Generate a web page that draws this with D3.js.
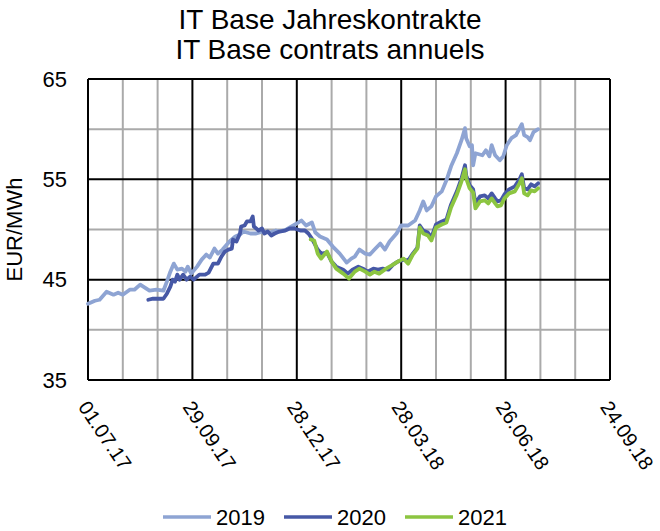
<!DOCTYPE html>
<html lang="en">
<meta charset="utf-8"/>
<head>
<script src="https://d3js.org/d3.v7.min.js"></script>
</head>
<style>
  body { margin: 0; background: #fff; }
  text { font-family: "Liberation Sans", Arial, sans-serif; fill: #000; }
  .grid-minor { stroke: #aaaaaa; stroke-width: 2; }
  .grid-major { stroke: #000; stroke-width: 2; }
  .series { fill: none; stroke-width: 3.8; stroke-linejoin: round; stroke-linecap: round; }
</style>
<body>
<script>
// chart data
var titleLines = ["IT Base Jahreskontrakte", "IT Base contrats annuels"];
var yLabel = "EUR/MWh";
var xTickLabels = ["01.07.17", "29.09.17", "28.12.17", "28.03.18", "26.06.18", "24.09.18"];
var yTicks = [35, 45, 55, 65];
var seriesNames = ["2019", "2020", "2021"];
var seriesColors = ["#8ea4d3", "#4658a6", "#8cc541"];

var dates19 = ["01.07.17","07.07.17","11.07.17","17.07.17","23.07.17","27.07.17","31.07.17","06.08.17","10.08.17","15.08.17",
  "19.08.17","23.08.17","29.08.17","04.09.17","07.09.17","10.09.17","13.09.17","16.09.17","20.09.17","23.09.17",
  "25.09.17","28.09.17","03.10.17","07.10.17","11.10.17","14.10.17","18.10.17","21.10.17","25.10.17","31.10.17",
  "05.11.17","09.11.17","12.11.17","18.11.17","23.11.17","29.11.17","05.12.17","10.12.17","13.12.17","19.12.17",
  "25.12.17","28.12.17","01.01.18","05.01.18","10.01.18","13.01.18","17.01.18","23.01.18","28.01.18","03.02.18",
  "09.02.18","13.02.18","16.02.18","20.02.18","25.02.18","01.03.18","05.03.18","10.03.18","14.03.18","18.03.18",
  "24.03.18","28.03.18","03.04.18","09.04.18","13.04.18","16.04.18","19.04.18","23.04.18","27.04.18","02.05.18",
  "06.05.18","10.05.18","15.05.18","19.05.18","22.05.18","23.05.18","26.05.18","28.05.18","29.05.18","31.05.18",
  "06.06.18","09.06.18","12.06.18","14.06.18","17.06.18","21.06.18","24.06.18","27.06.18","01.07.18","05.07.18",
  "10.07.18","12.07.18","15.07.18","17.07.18","20.07.18","24.07.18"];
var vals19 = [42.6,42.9,43.0,43.8,43.5,43.7,43.5,44.0,44.0,44.5,
  44.2,43.9,44.0,43.9,44.8,45.8,46.6,46.0,46.1,45.8,
  46.3,45.6,46.3,47.0,47.5,47.2,48.1,47.6,48.0,48.8,
  49.3,49.5,49.8,49.6,49.6,49.8,49.7,49.9,49.8,50.0,
  50.4,50.6,50.9,50.4,50.7,49.7,49.3,49.0,48.3,47.6,
  46.7,47.1,47.3,48.0,47.6,47.5,48.0,48.6,48.0,48.8,
  49.6,50.4,50.4,50.9,51.9,52.8,51.9,52.3,53.3,53.8,
  54.9,56.3,57.6,58.9,60.1,59.1,58.3,58.4,56.4,57.6,
  57.4,57.9,57.3,58.4,57.4,56.9,57.3,58.4,59.1,59.4,
  60.5,59.4,59.2,58.9,59.7,60.0];

var dates20 = ["22.08.17","26.08.17","04.09.17","07.09.17","10.09.17","12.09.17","14.09.17","16.09.17","18.09.17","21.09.17",
  "24.09.17","27.09.17","30.09.17","05.10.17","10.10.17","13.10.17","17.10.17","21.10.17","24.10.17","27.10.17",
  "30.10.17","02.11.17","03.11.17","06.11.17","09.11.17","10.11.17","13.11.17","15.11.17","18.11.17","20.11.17",
  "21.11.17","25.11.17","28.11.17","30.11.17","03.12.17","06.12.17","09.12.17","13.12.17","18.12.17","22.12.17",
  "26.12.17","31.12.17","04.01.18","07.01.18","10.01.18","15.01.18","18.01.18","23.01.18","27.01.18","31.01.18",
  "06.02.18","10.02.18","14.02.18","19.02.18","23.02.18","27.02.18","04.03.18","08.03.18","12.03.18","17.03.18",
  "21.03.18","25.03.18","30.03.18","03.04.18","07.04.18","11.04.18","13.04.18","16.04.18","20.04.18","23.04.18",
  "27.04.18","02.05.18","06.05.18","10.05.18","15.05.18","19.05.18","22.05.18","23.05.18","26.05.18","29.05.18",
  "31.05.18","04.06.18","08.06.18","11.06.18","14.06.18","17.06.18","19.06.18","22.06.18","25.06.18","29.06.18",
  "04.07.18","08.07.18","10.07.18","12.07.18","15.07.18","18.07.18","21.07.18","24.07.18"];
var vals20 = [43.0,43.1,43.1,43.6,44.3,45.0,44.8,45.5,45.0,45.5,
  45.0,45.3,45.0,45.5,45.5,45.7,46.6,46.6,47.3,47.8,
  48.0,48.1,49.0,48.8,49.6,50.3,50.4,50.8,50.8,51.3,
  50.3,49.9,50.1,49.6,49.8,49.4,49.6,49.8,49.9,50.1,
  50.1,49.9,49.9,49.6,49.1,48.0,47.6,47.7,46.8,46.3,
  46.0,45.6,46.0,46.3,46.1,45.8,46.1,46.0,46.1,46.0,
  46.5,46.8,47.0,46.9,47.6,48.2,50.4,49.9,49.7,49.2,
  50.5,50.8,51.0,52.5,53.8,55.1,56.4,55.4,54.4,54.0,
  52.6,53.3,53.4,53.1,53.6,53.1,52.8,52.9,53.5,54.0,
  54.3,55.0,55.5,54.1,54.0,54.5,54.3,54.6];

var dates21 = ["09.01.18","12.01.18","15.01.18","18.01.18","23.01.18","27.01.18","31.01.18","06.02.18","11.02.18","16.02.18",
  "20.02.18","25.02.18","01.03.18","05.03.18","09.03.18","15.03.18","21.03.18","25.03.18","30.03.18","03.04.18",
  "07.04.18","11.04.18","13.04.18","16.04.18","20.04.18","23.04.18","27.04.18","02.05.18","06.05.18","10.05.18",
  "15.05.18","19.05.18","22.05.18","23.05.18","26.05.18","29.05.18","31.05.18","04.06.18","08.06.18","11.06.18",
  "14.06.18","17.06.18","19.06.18","22.06.18","25.06.18","29.06.18","04.07.18","08.07.18","10.07.18","12.07.18",
  "15.07.18","18.07.18","21.07.18","24.07.18"];
var vals21 = [49.0,48.9,47.6,47.1,47.8,46.8,46.1,45.6,45.1,45.8,
  46.1,45.8,45.5,45.8,45.6,46.1,46.5,46.8,47.1,46.6,
  47.5,48.1,50.2,49.6,49.4,48.9,50.2,50.5,50.7,52.2,
  53.5,54.8,56.0,55.1,54.1,53.7,52.1,52.8,52.9,52.6,
  53.1,52.6,52.3,52.4,53.1,53.6,53.8,54.6,55.1,53.6,
  53.4,53.9,53.8,54.1];

var parse = d3.timeParse("%d.%m.%y");
var series = [
  {name: seriesNames[0], color: seriesColors[0], pts: dates19.map(function(d, i){ return {date: parse(d), v: vals19[i]}; })},
  {name: seriesNames[1], color: seriesColors[1], pts: dates20.map(function(d, i){ return {date: parse(d), v: vals20[i]}; })},
  {name: seriesNames[2], color: seriesColors[2], pts: dates21.map(function(d, i){ return {date: parse(d), v: vals21[i]}; })}
];

var margin = {top: 79, right: 50, bottom: 151, left: 88},
    width = 660 - margin.left - margin.right,
    height = 531 - margin.top - margin.bottom;

var svg = d3.select("body").append("svg")
    .attr("width", 660)
    .attr("height", 531);

var g = svg.append("g")
    .attr("transform", "translate(" + margin.left + "," + margin.top + ")");

var start = parse(xTickLabels[0]), end = parse(xTickLabels[xTickLabels.length - 1]);
var x = d3.scaleTime().domain([start, end]).range([0, width]);
var y = d3.scaleLinear().domain([35, 65]).range([height, 0]);

// gridlines: every 30 days / every 5 EUR, labelled ones are black
var xGrid = d3.range(0, 451, 30).map(function(d){ return d3.timeDay.offset(start, d); });
var yGrid = d3.range(35, 66, 5);

g.selectAll(".vminor").data(xGrid.filter(function(d, i){ return i % 3; })).enter()
  .append("line").attr("class", "grid-minor")
  .attr("x1", function(d){ return x(d); }).attr("x2", function(d){ return x(d); })
  .attr("y1", 0).attr("y2", height);
g.selectAll(".hminor").data(yGrid.filter(function(d){ return yTicks.indexOf(d) < 0; })).enter()
  .append("line").attr("class", "grid-minor")
  .attr("x1", 0).attr("x2", width)
  .attr("y1", function(d){ return y(d); }).attr("y2", function(d){ return y(d); });
g.selectAll(".vmajor").data(xGrid.filter(function(d, i){ return i % 3 === 0; })).enter()
  .append("line").attr("class", "grid-major")
  .attr("x1", function(d){ return x(d); }).attr("x2", function(d){ return x(d); })
  .attr("y1", 0).attr("y2", height);
g.selectAll(".hmajor").data(yTicks).enter()
  .append("line").attr("class", "grid-major")
  .attr("x1", 0).attr("x2", width)
  .attr("y1", function(d){ return y(d); }).attr("y2", function(d){ return y(d); });

// y axis labels
var yAxis = g.append("g").call(d3.axisLeft(y).tickValues(yTicks).tickSize(0).tickPadding(21));
yAxis.select(".domain").remove();
yAxis.selectAll("text").style("font-size", "22px").style("font-family", "Liberation Sans, Arial, sans-serif");

// x axis labels, slanted
var xAxis = g.append("g").attr("transform", "translate(0," + height + ")")
  .call(d3.axisBottom(x).tickValues(xTickLabels.map(parse)).tickSize(0)
    .tickFormat(function(d, i){ return xTickLabels[i]; }));
xAxis.select(".domain").remove();
xAxis.selectAll("text")
  .style("font-size", "20px").style("font-family", "Liberation Sans, Arial, sans-serif")
  .attr("text-anchor", "start")
  .attr("dy", null).attr("y", null)
  .attr("transform", "translate(-11,27) rotate(56)");

// series
var line = d3.line()
  .x(function(d){ return x(d.date); })
  .y(function(d){ return y(d.v); });

g.selectAll(".series").data(series).enter()
  .append("path").attr("class", "series")
  .attr("stroke", function(d){ return d.color; })
  .attr("d", function(d){ return line(d.pts); });

// titles
svg.selectAll(".title").data(titleLines).enter()
  .append("text")
  .attr("x", 330).attr("y", function(d, i){ return 29 + i * 30; })
  .attr("text-anchor", "middle").style("font-size", "28px")
  .text(function(d){ return d; });

svg.append("text")
  .attr("transform", "translate(21.5," + (margin.top + height / 2) + ") rotate(-90)")
  .attr("text-anchor", "middle").style("font-size", "22px")
  .text(yLabel);

// legend
var leg = svg.selectAll(".leg").data(series).enter().append("g")
  .attr("transform", function(d, i){ return "translate(" + (163 + i * 121) + ",517)"; });
leg.append("line").attr("x1", 0).attr("x2", 48)
  .attr("stroke", function(d){ return d.color; }).attr("stroke-width", 3.5);
leg.append("text").attr("x", 53).attr("dy", "0.35em").style("font-size", "22px")
  .text(function(d){ return d.name; });
</script>
</body>
</html>
